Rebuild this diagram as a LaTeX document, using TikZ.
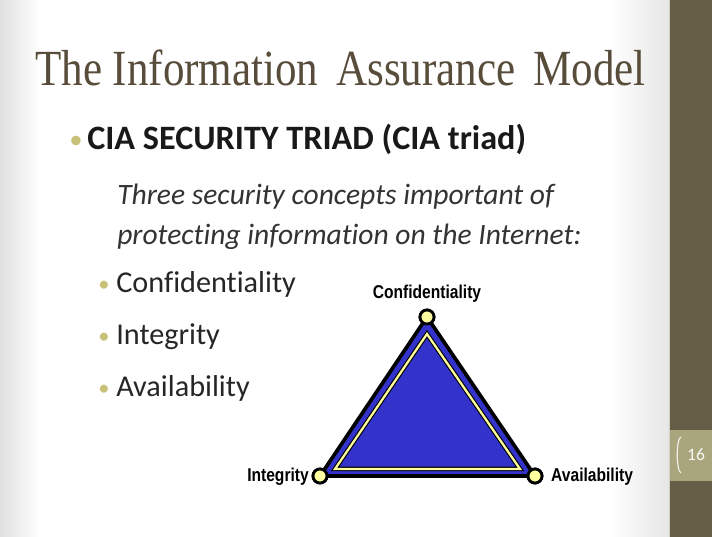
\documentclass[tikz,border=0pt]{standalone}
\usepackage{fontspec}
\setmainfont{Carlito}[Ligatures=NoCommon]
\newfontfamily\titlefont{Liberation Serif}
\newfontfamily\narrowfont{Liberation Sans}
\definecolor{barbrown}{RGB}{101,93,70}
\definecolor{numbox}{RGB}{169,166,126}
\definecolor{titlebrown}{RGB}{88,76,58}
\definecolor{bulletgold}{RGB}{200,192,120}
\definecolor{triblue}{RGB}{51,51,204}
\definecolor{paleyellow}{RGB}{255,255,160}
\tikzset{
  corner/.style={circle, draw=black, line width=2pt, fill=paleyellow, minimum size=10pt, inner sep=0pt},
  tri label/.style={font=\narrowfont\bfseries\fontsize{13.2}{15}\selectfont, xscale=.84, inner sep=0pt},
  item/.style={anchor=base west, inner sep=0pt, font=\fontsize{21.5}{24}\selectfont, text=black!85}
}
\begin{document}
\begin{tikzpicture}[x=0.025cm, y=-0.025cm]
        % page and background
        \useasboundingbox (0,0) rectangle (712,537);
        \fill[white] (0,0) rectangle (670,537);
        \shade[left color=black!12, right color=white] (0,0) rectangle (40,537);
        \shade[left color=white, right color=black!10] (610,0) rectangle (670,537);
        % the side bar and the page number
        \fill[barbrown] (670,0) rectangle (712,537);
        \draw[white!70!barbrown, line width=.6pt] (669.5,0) -- (669.5,537);
        \fill[numbox] (670,430) rectangle (712,481);
        \draw[white!85!numbox, line width=.8pt] (681,437) .. controls (676,438) and (676,471) .. (681,473);
        \node[font=\fontsize{12.5}{14}\selectfont, text=white!92!numbox] (page) at (696,455) {16};

        % the title
        \node[anchor=base west, inner sep=0pt, font=\titlefont\fontsize{36}{40}\selectfont, text=titlebrown, xscale=.85] (title) at (35,86) {The Information\, Assurance\, Model};
        % the first bullet
        \node[anchor=base, inner sep=0pt, font=\fontsize{19}{22}\selectfont, text=bulletgold] (dot0) at (76,149) {•};
        \node[anchor=base west, inner sep=0pt, font=\bfseries\fontsize{24.3}{28}\selectfont, text=black!90] (triad) at (87,150) {CIA SECURITY TRIAD (CIA triad)};
        % the italic lines
        \node[anchor=base west, inner sep=0pt, font=\itshape\fontsize{21}{24}\selectfont, text=black!80] (line1) at (117,205) {Three security concepts important of};
        \node[anchor=base west, inner sep=0pt, font=\itshape\fontsize{21}{24}\selectfont, text=black!80] (line2) at (117,245) {protecting information on the Internet:};
        % the three items
        \foreach \name/\y/\txt in {conf-item/293/Confidentiality, integ-item/345/Integrity, avail-item/397/Availability}{
            \node[anchor=base, inner sep=0pt, font=\fontsize{16}{18}\selectfont, text=bulletgold] at (104,\y-1) {•};
            \node[item] (\name) at (116,\y) {\txt};
        }

        % the triangle
        \node[corner] (conf) at (427,317) {};
        \node[corner] (integ) at (320,476) {};
        \node[corner] (avail) at (535,476) {};
        \fill[triblue] (conf.center) -- (avail.center) -- (integ.center) -- cycle;
        \draw[black, line width=2.6pt, line join=miter] (conf.center) -- (avail.center) -- (integ.center) -- cycle;
        % the inner yellow triangle
        \coordinate (in-top) at (427,334);
        \coordinate (in-left) at (335,469);
        \coordinate (in-right) at (520,469);
        \draw[black, line width=3.2pt] (in-top) -- (in-right) -- (in-left) -- cycle;
        \draw[paleyellow, line width=1.6pt] (in-top) -- (in-right) -- (in-left) -- cycle;
        % corners on top
        \node[corner] at (conf) {};
        \node[corner] at (integ) {};
        \node[corner] at (avail) {};
        % the corner labels
        \node[tri label, anchor=base] (conf-label) at (427,299) {Confidentiality};
        \node[tri label, anchor=base east] (integ-label) at (309,482) {Integrity};
        \node[tri label, anchor=base west] (avail-label) at (551,482) {Availability};
    \end{tikzpicture}
\end{document}
